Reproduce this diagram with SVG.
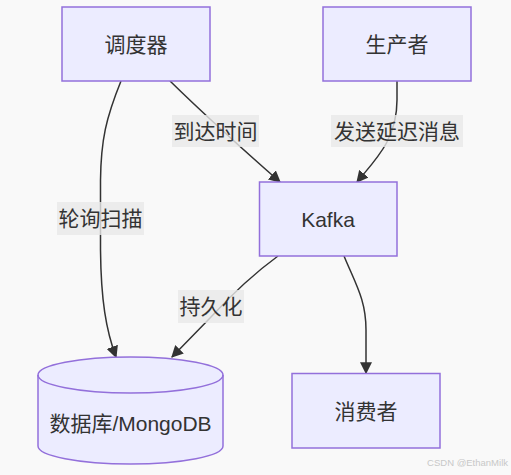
<svg xmlns="http://www.w3.org/2000/svg" width="511" height="475" viewBox="0 0 511 475">
<style>
.node rect,.node path.c{fill:#ECECFF;stroke:#9370DB;stroke-width:1.5}
.node text,.lbl text{font-family:"Liberation Sans","Noto Sans CJK SC",sans-serif;font-size:21px;fill:#333;text-anchor:middle;dominant-baseline:central}
.edge{fill:none;stroke:#333;stroke-width:1.5}
.lbl rect{fill:#e8e8e8;fill-opacity:0.8}
</style>
<defs>
<marker id="arr" viewBox="0 0 10 10" markerUnits="userSpaceOnUse" markerWidth="12" markerHeight="12" refX="9" refY="5" orient="auto">
<path d="M0,0 L10,5 L0,10 z" fill="#333"/>
</marker>
</defs>
<rect width="511" height="475" fill="#f9f9f9"/>
<g id="connectors">
<path class="edge" d="M121,81 C106,118 101,140 100.5,180 L100.5,250 C101,300 106,330 116,357" marker-end="url(#arr)"/>
<path class="edge" d="M170,81 Q215,125 280,182" marker-end="url(#arr)"/>
<path class="edge" d="M397,81 L397,100 C397,140 375,160 357,182" marker-end="url(#arr)"/>
<path class="edge" d="M278,256 Q245,280 210,318 L172,357" marker-end="url(#arr)"/>
<path class="edge" d="M344,256 C356,285 366,300 366,330 L366,373" marker-end="url(#arr)"/>
</g>
<g id="labels">
<g class="lbl"><rect x="172" y="115" width="87" height="32"/><text x="215.5" y="131">到达时间</text></g>
<g class="lbl"><rect x="57" y="202" width="87" height="33"/><text x="100.5" y="218.5">轮询扫描</text></g>
<g class="lbl"><rect x="331" y="115" width="132" height="32"/><text x="397" y="131">发送延迟消息</text></g>
<g class="lbl"><rect x="178" y="290" width="66" height="33"/><text x="211" y="306.5">持久化</text></g>
</g>
<g id="scheduler" class="node"><rect x="62" y="7" width="148" height="74"/><text x="136" y="44">调度器</text></g>
<g id="producer" class="node"><rect x="323" y="7" width="148" height="74"/><text x="397" y="44">生产者</text></g>
<g id="kafka" class="node"><rect x="259.5" y="182" width="137.5" height="74"/><text x="328" y="219">Kafka</text></g>
<g id="consumer" class="node"><rect x="292" y="373.5" width="148" height="74.5"/><text x="366" y="411">消费者</text></g>
<g id="db" class="node">
<path class="c" d="M38,375 A92.5,18 0 0 1 223,375 L223,446 A92.5,18 0 0 1 38,446 Z"/>
<path d="M38,375 A92.5,18 0 0 0 223,375" fill="none" stroke="#9370DB" stroke-width="1.5"/>
<text x="130.5" y="423">数据库/MongoDB</text>
</g>
<text x="508" y="466" text-anchor="end" font-family="Liberation Sans,sans-serif" font-size="9.5" fill="#c8c8c8">CSDN @EthanMilk</text>
</svg>
